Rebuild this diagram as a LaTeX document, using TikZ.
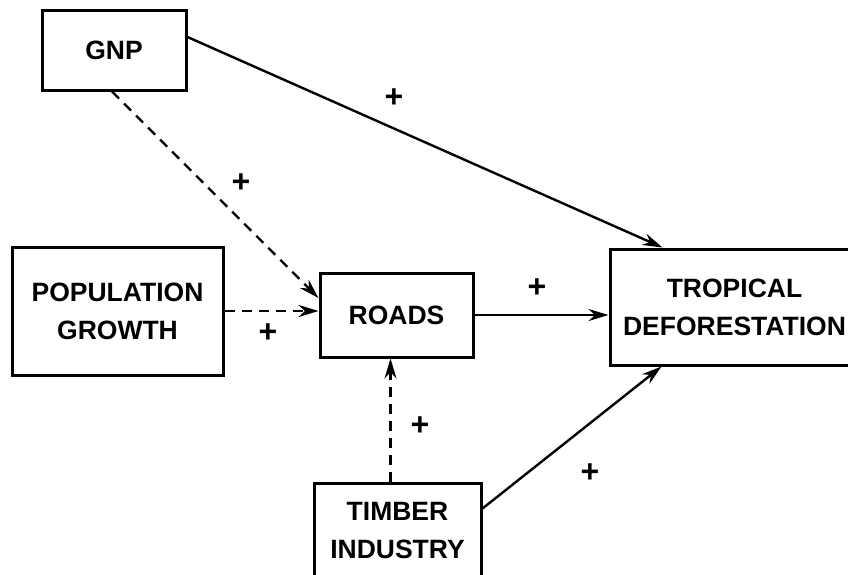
\documentclass[tikz,border=0pt]{standalone}
\usepackage{fontspec}
\setmainfont{Liberation Sans}
\usetikzlibrary{arrows.meta}
\begin{document}
\begin{tikzpicture}[x=1pt,y=-1pt,
  box/.style={draw, line width=3pt, align=center, inner sep=0pt,
    font=\fontsize{26.5}{38}\selectfont\bfseries},
  link/.style={line width=2.4pt, -{Stealth[length=20pt,width=12pt]}},
  dashedlink/.style={link, dash pattern=on 10pt off 7pt},
  sign/.style={font=\fontsize{32}{32}\selectfont\bfseries, inner sep=0pt}]
  \useasboundingbox (0,0) rectangle (848,574);
  \clip (0,0) rectangle (848,574);

  % factor boxes
  \node[box, minimum width=144pt, minimum height=80pt] (gnp) at (114,50) {GNP};
  \node[box, minimum width=211pt, minimum height=128pt] (pop) at (117.5,311)
    {POPULATION\\GROWTH};
  \node[box, minimum width=153pt, minimum height=84pt] (roads) at (396.5,315) {ROADS};
  \node[box, minimum width=249pt, minimum height=116pt] (trop) at (734.5,307)
    {TROPICAL\\DEFORESTATION};
  \node[box, minimum width=167pt, minimum height=95pt] (timber) at (397.5,530.5)
    {TIMBER\\INDUSTRY};

  % direct influences on deforestation
  \draw[link] ([yshift=13pt]gnp.east) -- ([xshift=54pt]trop.north west);
  \draw[link] (roads.east) -- (roads.east -| trop.west);
  \draw[link] ([yshift=22pt]timber.east) -- ([xshift=53pt]trop.south west);

  % influences on road building
  \draw[dashedlink] ([xshift=-2pt]gnp.south) -- ([yshift=17pt]roads.west);
  \draw[dashedlink] (pop.east) -- (pop.east -| roads.west);
  \draw[dashedlink] ([xshift=-7pt]timber.north) -- ([xshift=-7pt]timber.north |- roads.south);

  % signs of the effects
  \node[sign] (s1) at (394,98) {+};
  \node[sign] (s2) at (241,183) {+};
  \node[sign] (s3) at (268,333) {+};
  \node[sign] (s4) at (537,288) {+};
  \node[sign] (s5) at (420,426) {+};
  \node[sign] (s6) at (590,473) {+};
\end{tikzpicture}
\end{document}
